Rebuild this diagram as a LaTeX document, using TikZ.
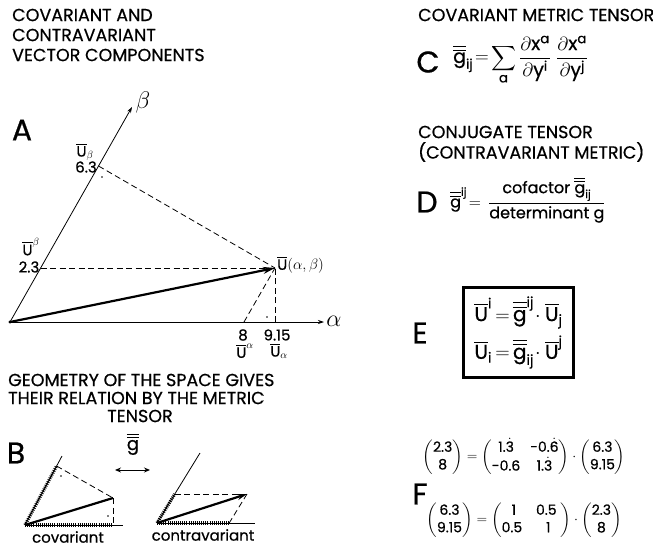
\RequirePackage{fix-cm}
\documentclass[tikz,border=0pt]{standalone}
\usepackage{amsmath}
\usepackage{fontspec}
\setmainfont{Poppins}[FakeBold=0.6]
\usetikzlibrary{arrows.meta}
\newcommand{\ubar}{\overline{\text{U}}}
\newcommand{\gbb}{\overline{\overline{\text{g}}}}
\newcommand{\tx}[1]{\text{#1}}
\newcommand{\fs}[1]{\fontsize{#1}{#1}\selectfont}
\begin{document}
\begin{tikzpicture}[x=1pt,y=-1pt,
  axis/.style={line width=0.8pt,-{Stealth[length=6pt,width=4pt]}},
  dsh/.style={line width=0.8pt,dash pattern=on 6pt off 3.5pt},
  vec/.style={line width=2.2pt,-{Stealth[length=12pt,width=7pt]}},
  thin/.style={line width=0.8pt},
  dotl/.style={line width=3.2pt,dash pattern=on 1pt off 1.1pt},
  head/.style={anchor=west,inner sep=0pt,font=\fs{17.5}},
  big/.style={inner sep=0pt,font=\fs{30}},
  lab/.style={inner sep=0pt,font=\fs{15}},
  mat/.style={inner sep=0pt,font=\fs{14}}]
\useasboundingbox (0,0) rectangle (653,548);

% ---------- headings ----------
\node[head] (h1) at (12,15) {COVARIANT AND};
\node[head] (h2) at (12,35) {CONTRAVARIANT};
\node[head] (h3) at (12,55) {VECTOR COMPONENTS};
\node[head] (g1) at (8,380) {GEOMETRY OF THE SPACE GIVES};
\node[head] (g2) at (8,398) {THEIR RELATION BY THE METRIC};
\node[inner sep=0pt,font=\fs{17.5}] (g3) at (140,416) {TENSOR};
\node[head] (r1) at (418,15) {COVARIANT METRIC TENSOR};
\node[head] (r2) at (418,132) {CONJUGATE TENSOR};
\node[head] (r3) at (418,152) {(CONTRAVARIANT METRIC)};

% ---------- panel A ----------
\node[big] (lA) at (22,130) {A};
\coordinate (O) at (10,322);
\coordinate (Bt) at (132,107);
\coordinate (At) at (324,322);
\coordinate (U) at (275,268);
\coordinate (Ub) at (98.5,166);
\coordinate (Uu) at (40.6,268);
\coordinate (P8) at (244,322);
\coordinate (P9) at (275,322);
\draw[axis] (O) -- (Bt);
\draw[axis] (O) -- (At);
\draw[dsh] (Ub) -- (U);
\draw[dsh] (Uu) -- (U);
\draw[dsh] (P8) -- (U);
\draw[dsh] (P9) -- (U);
\draw[vec] (O) -- (U);
\fill (O) circle (1.6);
\fill (102,177) circle (0.9);
\fill (267,317) circle (0.9);
\node[inner sep=0pt,font=\fs{24}] (lb) at (143,103) {$\beta$};
\node[inner sep=0pt,font=\fs{24}] (la) at (334,321) {$\alpha$};
\node[lab,anchor=west] (lU) at (277,265) {$\ubar(\alpha,\beta)$};
\node[lab] (lUb) at (85,152) {$\ubar_{\beta}$};
\node[lab] (l63) at (86,167) {6.3};
\node[lab] (lUu) at (31,247) {$\ubar^{\beta}$};
\node[lab] (l23) at (29,267) {2.3};
\node[lab] (l8) at (243,335) {8};
\node[lab] (lUa) at (245,351) {$\ubar^{\alpha}$};
\node[lab] (l915) at (277,335) {9.15};
\node[lab] (lUl) at (279,351) {$\ubar_{\alpha}$};

% ---------- panel B ----------
\node[big] (lB) at (16,453) {B};
\node[inner sep=0pt,font=\fs{18}] (gB) at (133,444) {$\gbb$};
\coordinate (da) at (115,470);
\coordinate (db) at (150,470);
\draw[line width=0.9pt,{Stealth[length=6pt,width=5pt]}-{Stealth[length=6pt,width=5pt]}] (da) -- (db);
% covariant
\coordinate (O1) at (25,525);
\coordinate (B1) at (62,456);
\coordinate (F1) at (56.6,466);
\coordinate (V1) at (113,498);
\coordinate (G1) at (113,525);
\coordinate (A1) at (123,525);
\draw[thin] (O1) -- (B1);
\draw[thin] (O1) -- (A1);
\draw[dotl] (O1) -- (F1);
\draw[dotl] (O1) -- (G1);
\draw[dsh] (F1) -- (V1);
\draw[dsh] (V1) -- (G1);
\draw[line width=2.2pt] (O1) -- (V1);
\fill (61,476) circle (0.8);
\fill (108,516) circle (0.8);
\node[inner sep=0pt,font=\fs{15}] (cov) at (68,537) {covariant};
% contravariant
\coordinate (O2) at (157,523);
\coordinate (B2) at (200,453);
\coordinate (F2) at (174.8,494);
\coordinate (V2) at (247,494);
\coordinate (G2) at (229.2,523);
\coordinate (A2) at (255,523);
\draw[thin] (O2) -- (B2);
\draw[thin] (O2) -- (A2);
\draw[dotl] (O2) -- (F2);
\draw[dotl] (O2) -- (G2);
\draw[dsh] (F2) -- (V2);
\draw[dsh] (V2) -- (G2);
\draw[line width=2.2pt,-{Stealth[length=10pt,width=6pt]}] (O2) -- (V2);
\node[inner sep=0pt,font=\fs{15}] (con) at (203,535) {contravariant};

% ---------- C ----------
\node[big] (lC) at (428,62) {C};
\node[inner sep=0pt,font=\fs{19},anchor=west] (eqC) at (453,60) {$\gbb_{\tx{ij}}\!=\!\displaystyle\sum_{\tx{a}}\frac{\partial\tx{x}^{\tx{a}}}{\partial\tx{y}^{\tx{i}}}\;\frac{\partial\tx{x}^{\tx{a}}}{\partial\tx{y}^{\tx{j}}}$};

% ---------- D ----------
\node[big] (lD) at (427,202) {D};
\node[inner sep=0pt,font=\fs{16},anchor=west] (eqD) at (450,200) {$\gbb^{\tx{ij}}\!=\,\dfrac{\tx{cofactor }\gbb_{\tx{ij}}}{\tx{determinant g}}$};

% ---------- E ----------
\node[big] (lE) at (420,333) {E};
\node[draw,line width=3.6pt,minimum width=110pt,minimum height=90pt,align=center,inner sep=0pt,font=\fs{20}] (boxE) at (518.5,332.5)
  {$\ubar^{\tx{i}}\,{=}\,\gbb^{\tx{ij}}\!\cdot\ubar_{\tx{j}}$\\[6pt]$\ubar_{\tx{i}}\,{=}\,\gbb_{\tx{ij}}\!\cdot\ubar^{\tx{j}}$};

% ---------- F ----------
\node[big] (lF) at (420,494) {F};
\node[mat] (eqF1) at (524,457)
  {\renewcommand{\arraystretch}{1.25}$\begin{pmatrix}\tx{2.3}\\ \tx{8}\end{pmatrix}=\begin{pmatrix}\tx{1.}\dot{\tx{3}} & \tx{-0.}\dot{\tx{6}}\\ \tx{-0.6} & \tx{1.}\dot{\tx{3}}\end{pmatrix}\cdot\begin{pmatrix}\tx{6.3}\\ \tx{9.15}\end{pmatrix}$};
\node[mat] (eqF2) at (524,520)
  {\renewcommand{\arraystretch}{1.25}$\begin{pmatrix}\tx{6.3}\\ \tx{9.15}\end{pmatrix}=\begin{pmatrix}\;\tx{1} & \;\tx{0.5}\;\\ \tx{0.5} & \;\;\tx{1}\;\end{pmatrix}\cdot\begin{pmatrix}\tx{2.3}\\ \tx{8}\end{pmatrix}$};
\end{tikzpicture}
\end{document}
